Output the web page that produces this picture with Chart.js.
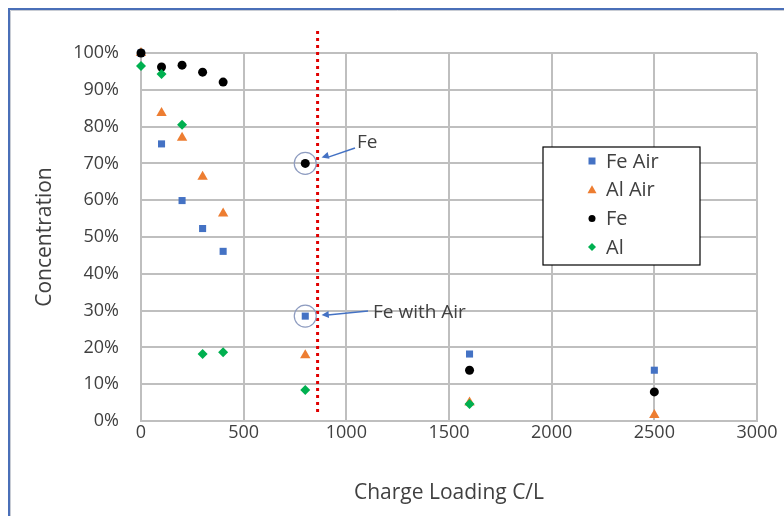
<!DOCTYPE html>
<html>
<head>
<meta charset="utf-8">
<script src="https://cdn.jsdelivr.net/npm/chart.js@4.4.1/dist/chart.umd.min.js"></script>
<style>
  html, body { margin: 0; padding: 0; background: #fff; }
  #wrap { width: 784px; height: 516px; position: relative; }
</style>
</head>
<body>
<div id="wrap"><canvas id="concChart" width="784" height="516"></canvas></div>
<script>
// charge loading (C/L) for each measurement
const loadings = [0, 100, 200, 300, 400, 800, 1600, 2500];

// concentrations, fraction of initial
const feAir = [1.00, 0.753, 0.599, 0.523, 0.461, 0.285, 0.182, 0.138];
const alAir = [1.00, 0.837, 0.770, 0.664, 0.564, 0.179, 0.050, 0.016];
const fe    = [1.00, 0.962, 0.967, 0.948, 0.921, 0.700, 0.138, 0.079];
const al    = [0.965, 0.943, 0.805, 0.182, 0.187, 0.084, 0.046, null];

// red dotted marker line
const markerX = 860;
const markerSpan = [1.06, 0.02];

const xTicks = [0, 500, 1000, 1500, 2000, 2500, 3000];

function toPoints(xs, ys) {
    return xs.map((x, i) => ({ x: x, y: ys[i] })).filter(p => p.y !== null);
}

const FONT = '"Open Sans", Lato, sans-serif';
const TXT = '#404040';

// selection frame along top/left edge
const frame = {
    id: 'frame',
    beforeDraw(chart) {
        const ctx = chart.ctx;
        ctx.save();
        ctx.strokeStyle = '#c8ccd4';
        ctx.lineWidth = 1;
        ctx.beginPath();
        ctx.moveTo(10.5, 516); ctx.lineTo(10.5, 10.5); ctx.lineTo(784, 10.5);
        ctx.stroke();
        ctx.strokeStyle = '#4a6fb8';
        ctx.lineWidth = 2;
        ctx.beginPath();
        ctx.moveTo(9, 516); ctx.lineTo(9, 9); ctx.lineTo(784, 9);
        ctx.stroke();
        ctx.restore();
    }
};

// circled points + arrows with labels
const notes = {
    id: 'notes',
    afterDatasetsDraw(chart) {
        const ctx = chart.ctx;
        const xs = chart.scales.x, ys = chart.scales.y;
        const items = [
            { x: 800, y: fe[5], label: 'Fe', tx: 357, ty: 143, ax: 355, ay: 148, dy: -6 },
            { x: 800, y: feAir[5], label: 'Fe with Air', tx: 373, ty: 313, ax: 368, ay: 311, dy: -1 }
        ];
        ctx.save();
        items.forEach(it => {
            const px = xs.getPixelForValue(it.x), py = ys.getPixelForValue(it.y);
            ctx.strokeStyle = '#8e9cc0';
            ctx.lineWidth = 1.2;
            ctx.beginPath();
            ctx.arc(px, py, 11, 0, Math.PI * 2);
            ctx.stroke();
            // arrow
            const ex = xs.getPixelForValue(markerX) + 4, ey = py + it.dy;
            ctx.strokeStyle = '#4472C4';
            ctx.fillStyle = '#4472C4';
            ctx.lineWidth = 1.5;
            ctx.beginPath();
            ctx.moveTo(it.ax, it.ay);
            ctx.lineTo(ex + 6, ey);
            ctx.stroke();
            const ang = Math.atan2(ey - it.ay, ex - it.ax);
            ctx.beginPath();
            ctx.moveTo(ex, ey);
            ctx.lineTo(ex - 8 * Math.cos(ang - 0.45), ey - 8 * Math.sin(ang - 0.45));
            ctx.lineTo(ex - 8 * Math.cos(ang + 0.45), ey - 8 * Math.sin(ang + 0.45));
            ctx.closePath();
            ctx.fill();
            ctx.fillStyle = TXT;
            ctx.font = '19px ' + FONT;
            ctx.textBaseline = 'middle';
            ctx.textAlign = 'left';
            ctx.fillText(it.label, it.tx, it.ty);
        });
        ctx.restore();
    }
};

// boxed legend inside the plot
const boxLegend = {
    id: 'boxLegend',
    afterDraw(chart) {
        const ctx = chart.ctx;
        ctx.save();
        ctx.fillStyle = '#fff';
        ctx.fillRect(543, 147, 157, 118);
        ctx.strokeStyle = '#000';
        ctx.lineWidth = 1.2;
        ctx.strokeRect(543, 147, 157, 118);
        const rows = chart.data.datasets.slice(0, 4);
        rows.forEach((ds, i) => {
            const cy = 161 + i * 28.7;
            const cx = 592;
            ctx.fillStyle = ds.backgroundColor;
            ctx.beginPath();
            if (ds.pointStyle === 'rect') {
                ctx.rect(cx - 3.5, cy - 3.5, 7, 7);
            } else if (ds.pointStyle === 'triangle') {
                ctx.moveTo(cx, cy - 4.5); ctx.lineTo(cx + 4.5, cy + 3.5); ctx.lineTo(cx - 4.5, cy + 3.5);
            } else if (ds.pointStyle === 'rectRot') {
                ctx.moveTo(cx, cy - 4); ctx.lineTo(cx + 4, cy); ctx.lineTo(cx, cy + 4); ctx.lineTo(cx - 4, cy);
            } else {
                ctx.arc(cx, cy, 3.5, 0, Math.PI * 2);
            }
            ctx.closePath();
            ctx.fill();
            ctx.fillStyle = TXT;
            ctx.font = '20px ' + FONT;
            ctx.textBaseline = 'middle';
            ctx.textAlign = 'left';
            ctx.fillText(ds.label, 606, cy + 1);
        });
        ctx.restore();
    }
};

new Chart(document.getElementById('concChart'), {
    type: 'scatter',
    data: {
        datasets: [
            { label: 'Fe Air', data: toPoints(loadings, feAir), pointStyle: 'rect', pointRadius: 5, order: 2,
              backgroundColor: '#4472C4', borderColor: '#4472C4', borderWidth: 0, clip: false },
            { label: 'Al Air', data: toPoints(loadings, alAir), pointStyle: 'triangle', pointRadius: 6, order: 3,
              backgroundColor: '#ED7D31', borderColor: '#ED7D31', borderWidth: 0, clip: false },
            { label: 'Fe', data: toPoints(loadings, fe), pointStyle: 'circle', pointRadius: 4.5, order: 1,
              backgroundColor: '#000000', borderColor: '#000000', borderWidth: 0, clip: false },
            { label: 'Al', data: toPoints(loadings, al), pointStyle: 'rectRot', pointRadius: 5, order: 0,
              backgroundColor: '#00B050', borderColor: '#00B050', borderWidth: 0, clip: false },
            { label: 'marker', type: 'line', data: markerSpan.map(v => ({ x: markerX, y: v })), order: 5,
              borderColor: '#E00000', borderWidth: 3, borderDash: [3, 4], pointRadius: 0, clip: false }
        ]
    },
    options: {
        responsive: false,
        animation: false,
        layout: { padding: { left: 0, top: 53, right: 27, bottom: 0 } },
        plugins: { legend: { display: false }, tooltip: { enabled: false } },
        scales: {
            x: {
                type: 'linear', min: 0, max: 3000,
                afterBuildTicks: s => { s.ticks = xTicks.map(v => ({ value: v })); },
                afterFit: s => { s.height = 95; },
                grid: { color: '#bfbfbf', lineWidth: 2, drawTicks: false },
                border: { color: '#bfbfbf', width: 2 },
                ticks: { color: TXT, font: { family: FONT, size: 18 }, padding: 1,
                         callback: v => String(v) },
                title: { display: true, text: 'Charge Loading C/L', color: TXT,
                         font: { family: FONT, size: 21 }, padding: { top: 4, bottom: 10 } }
            },
            y: {
                min: 0, max: 1,
                afterFit: s => { s.width = 141; },
                grid: { color: '#bfbfbf', lineWidth: 2, drawTicks: false },
                border: { color: '#bfbfbf', width: 2 },
                ticks: { stepSize: 0.1, color: TXT, font: { family: FONT, size: 18 }, padding: 22,
                         callback: v => Math.round(v * 100) + '%' },
                title: { display: true, text: 'Concentration', color: TXT,
                         font: { family: FONT, size: 21 }, padding: { top: 32, bottom: 4 } }
            }
        }
    },
    plugins: [frame, notes, boxLegend]
});
</script>
</body>
</html>
